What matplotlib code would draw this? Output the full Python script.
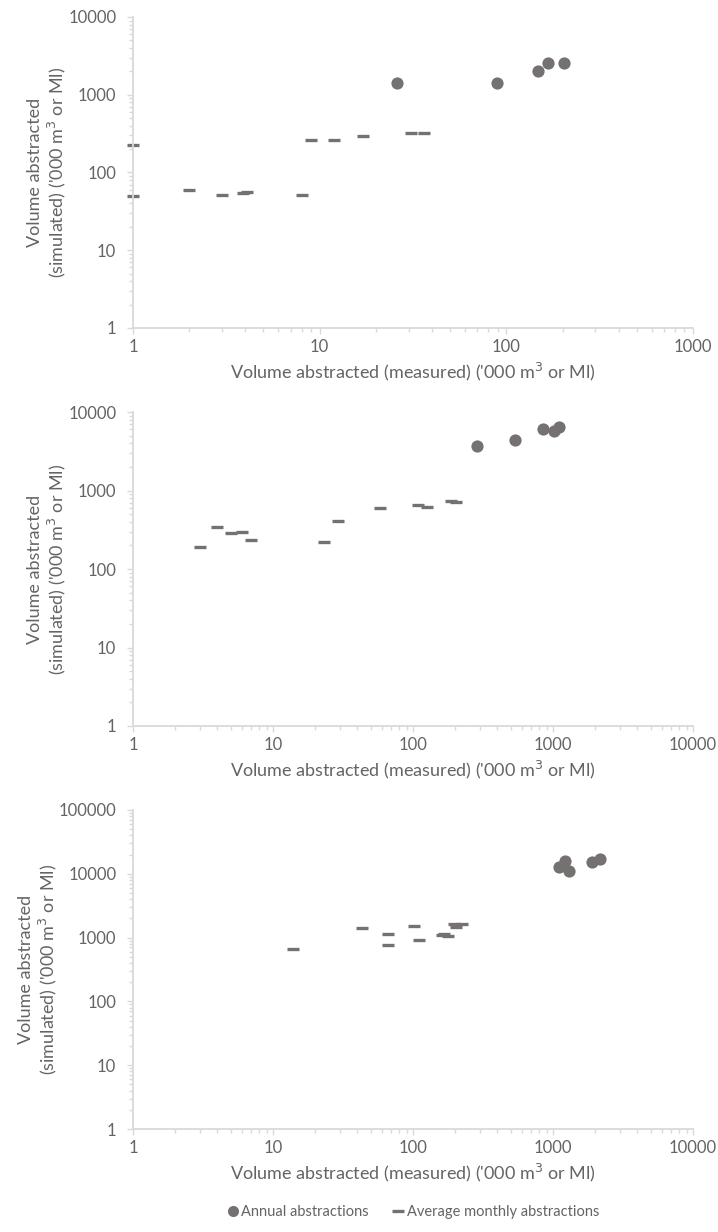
import numpy as np
import matplotlib.pyplot as plt
from matplotlib.ticker import LogLocator, FuncFormatter, NullFormatter
from matplotlib.lines import Line2D

plt.rcParams['font.family'] = ['Lato', 'DejaVu Sans']

# panel 1
p1_annual_x = [26, 89, 148, 168, 204]
p1_annual_y = [1400, 1400, 2000, 2580, 2580]
p1_monthly_x = [1, 1, 2, 3, 3.9, 4.1, 8, 9, 12, 17, 31, 36]
p1_monthly_y = [228, 50, 60, 52, 54, 56, 51, 259, 262, 291, 318, 318]

# panel 2
p2_annual_x = [286, 538, 849, 1012, 1111]
p2_annual_y = [3660, 4400, 6150, 5700, 6440]
p2_monthly_x = [3, 4, 5, 6, 7, 23, 29, 58, 108, 126, 186, 204]
p2_monthly_y = [189, 347, 288, 293, 234, 219, 413, 598, 648, 611, 728, 708]

# panel 3
p3_annual_x = [1104, 1218, 1300, 1910, 2157]
p3_annual_y = [12900, 16000, 11200, 15300, 16900]
p3_monthly_x = [14, 43, 66, 66, 102, 111, 160, 166, 179, 197, 203, 223]
p3_monthly_y = [663, 1430, 1150, 774, 1500, 906, 1086, 1138, 1048, 1633, 1482, 1652]

panels = [
    (p1_annual_x, p1_annual_y, p1_monthly_x, p1_monthly_y, 1000, 10000),
    (p2_annual_x, p2_annual_y, p2_monthly_x, p2_monthly_y, 10000, 10000),
    (p3_annual_x, p3_annual_y, p3_monthly_x, p3_monthly_y, 10000, 100000),
]

mark_col = '#767171'
axis_col = '#D9D9D9'
text_col = '#646464'

fig = plt.figure(figsize=(7.18, 12.32), dpi=100)
W, H = 718, 1232
boxes = [(17, 328), (412, 726), (810, 1129)]

ylab = "Volume abstracted\n(simulated) ('000 m$^3$ or Ml)"
xlab = "Volume abstracted (measured) ('000 m$^3$ or Ml)"

for (ax_x, ax_y, mo_x, mo_y, xmax, ymax), (top, bot) in zip(panels, boxes):
    ax = fig.add_axes([133 / W, 1 - bot / H, (693 - 133) / W, (bot - top) / H])
    ax.plot(mo_x, mo_y, linestyle='none', marker='_', markersize=8.5,
            markeredgewidth=2.4, color=mark_col, clip_on=False)
    ax.plot(ax_x, ax_y, linestyle='none', marker='o', markersize=8.8,
            color=mark_col, markeredgewidth=0, clip_on=False)
    ax.set_xscale('log')
    ax.set_yscale('log')
    ax.set_xlim(1, xmax)
    ax.set_ylim(1, ymax)
    for s in ['top', 'right']:
        ax.spines[s].set_visible(False)
    for s in ['left', 'bottom']:
        ax.spines[s].set_color(axis_col)
        ax.spines[s].set_linewidth(1.3)
    fmt = FuncFormatter(lambda v, p: '{:.0f}'.format(v))
    for axis in [ax.xaxis, ax.yaxis]:
        axis.set_major_locator(LogLocator(base=10, numticks=10))
        axis.set_minor_locator(LogLocator(base=10, subs=np.arange(2, 10), numticks=10))
        axis.set_major_formatter(fmt)
        axis.set_minor_formatter(NullFormatter())
    ax.tick_params(which='major', length=4, width=1, color=axis_col,
                   labelcolor=text_col, labelsize=12, direction='out')
    ax.tick_params(axis='x', which='major', pad=4)
    ax.tick_params(axis='y', which='major', pad=8)
    ax.tick_params(which='minor', length=3, width=1, color=axis_col, direction='out')
    ax.set_xlabel(xlab, color=text_col, fontsize=13, labelpad=4)
    ax.set_ylabel(ylab, color=text_col, fontsize=13, labelpad=0, linespacing=1.15)

handles = [
    Line2D([], [], linestyle='none', marker='o', markersize=8, color=mark_col,
           markeredgewidth=0, label='Annual abstractions'),
    Line2D([], [], linestyle='none', marker='_', markersize=9, markeredgewidth=2.4,
           color=mark_col, label='Average monthly abstractions'),
]
leg = fig.legend(handles=handles, loc='center', bbox_to_anchor=(413 / W, 1 - 1212 / H),
                 ncol=2, frameon=False, fontsize=10.5, handlelength=0.8,
                 handletextpad=0.2, columnspacing=1.6)
for t in leg.get_texts():
    t.set_color(text_col)

fig.savefig('out.png', dpi=100)
